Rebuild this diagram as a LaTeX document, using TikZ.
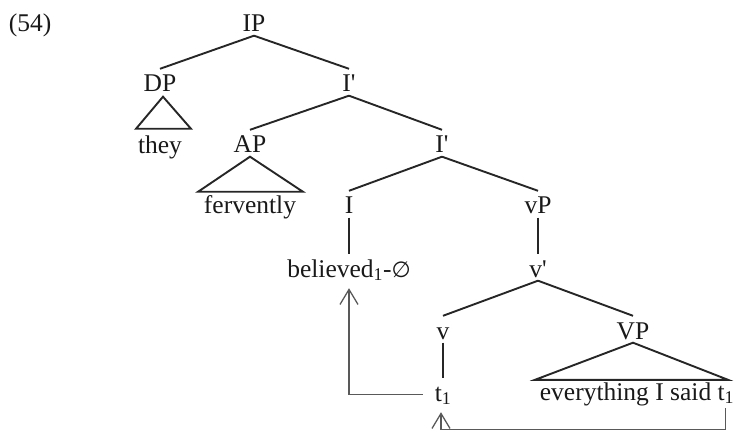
\documentclass[tikz,border=0pt]{standalone}
\usepackage{fontspec}
\setmainfont{Liberation Serif}
\newfontfamily\symf{DejaVu Sans}
\usetikzlibrary{arrows.meta,calc}
\newcommand{\pr}{\textquotesingle}
\begin{document}
\begin{tikzpicture}[x=1pt,y=-1pt,
  lab/.style={inner sep=0pt,anchor=base,text height=23pt,text depth=3.5pt,
              font=\fontsize{25.5}{30}\selectfont,text=black!90},
  edge/.style={line width=1.9pt,draw=black!85,line join=miter},
  mv/.style={line width=1.3pt,draw=black!65,
             -{Straight Barb[length=15pt,width=18pt]}}]
\useasboundingbox (0,0) rectangle (738,430);
% labels
\node[lab] (ex) at (30,32) {(54)};
\node[lab] (IP) at (254,32) {IP};
\node[lab] (DP) at (160,92) {DP};
\node[lab] (I1) at (349,92) {I\pr};
\node[lab] (they) at (160,154) {they};
\node[lab] (AP) at (250,153) {AP};
\node[lab] (I2) at (442,153) {I\pr};
\node[lab] (fervently) at (250,214) {fervently};
\node[lab] (I) at (349,214) {I};
\node[lab] (vP) at (538,214) {vP};
\node[lab] (believed) at (349,277) {believed\textsubscript{1}-{\symf\fontsize{22}{26}\selectfont ∅}};
\node[lab] (vbar) at (538,277) {v\pr};
\node[lab] (v) at (443,339) {v};
\node[lab] (VP) at (633,339) {VP};
\node[lab] (t) at (443,401) {t\textsubscript{1}};
\node[lab] (every) at (637,400) {everything I said t\textsubscript{1}};
% branches
\draw[edge] (IP.south) -- (DP.north);
\draw[edge] (IP.south) -- (I1.north);
\draw[edge] (I1.south) -- (AP.north);
\draw[edge] (I1.south) -- (I2.north);
\draw[edge] (I2.south) -- (I.north);
\draw[edge] (I2.south) -- (vP.north);
\draw[edge] (I.south) -- (believed.north);
\draw[edge] (vP.south) -- (vbar.north);
\draw[edge] (vbar.south) -- (v.north);
\draw[edge] (vbar.south) -- (VP.north);
\draw[edge] (v.south) -- (t.north);
% triangles
\draw[edge] ($(DP.south)+(3,1)$) -- ($(they.north)+(-24,-2)$) -- ($(they.north)+(31,-2)$) -- cycle;
\draw[edge] (AP.south) -- ($(fervently.north)+(-52,1)$) -- ($(fervently.north)+(53,1)$) -- cycle;
\draw[edge] (VP.south) -- ($(every.north)+(-102,3)$) -- ($(every.north)+(91,3)$) -- cycle;
% movement arrows
\draw[mv] ($(t.west)+(-12,3)$) -| ($(believed.south)+(0,7.5)$);
\draw[mv] ($(every.south east)+(-9,4.5)$) -- ++(0,21) -| ($(t.south)+(-2,7.5)$);
\end{tikzpicture}
\end{document}
